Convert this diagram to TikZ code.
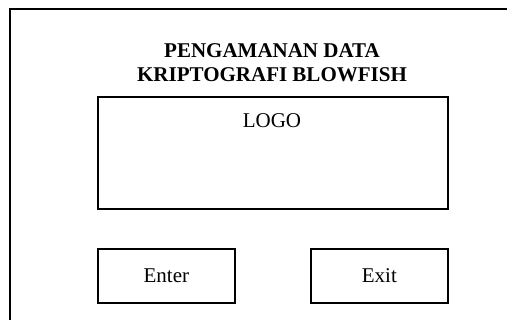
\documentclass[tikz,border=0pt]{standalone}
\usepackage{fontspec}
\setmainfont{Liberation Serif}
\usetikzlibrary{positioning}

\begin{document}
\begin{tikzpicture}[x=1pt,y=-1pt,line width=2pt,font=\fontsize{21}{24}\selectfont,
  box/.style={draw,rectangle,inner sep=0pt,outer sep=0pt},
  button/.style={box,minimum width=137pt,minimum height=54pt}]

\useasboundingbox (0,0) rectangle (507,320);

% frame of the window (cut off at right and bottom)
\begin{scope}
\clip (0,0) rectangle (507,320);
\draw (9.5,330) -- (9.5,9.5) -- (520,9.5);
\end{scope}

\node[anchor=base,font=\fontsize{21}{24}\selectfont\bfseries](title1) at (272,58){PENGAMANAN DATA};
\node[anchor=base,font=\fontsize{21}{24}\selectfont\bfseries](title2) at (272,82){KRIPTOGRAFI BLOWFISH};

\node[box,minimum width=350pt,minimum height=112pt,anchor=north west](logo) at (97.7,96.7){};
\node[anchor=base](logotext) at (272,128){LOGO};

\node[button](enter) at (166.4,276){Enter};
\node[button](exit)[right=76pt of enter]{Exit};

\end{tikzpicture}
\end{document}
